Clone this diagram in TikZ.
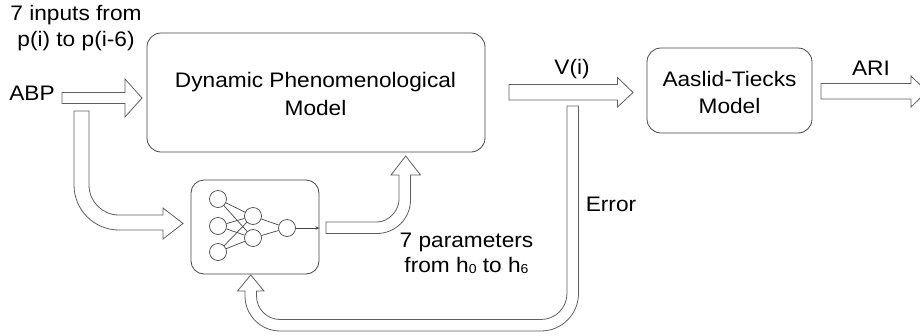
\documentclass[tikz,border=0pt]{standalone}
\usepackage{fontspec}
\setmainfont{Liberation Sans}[FakeStretch=1.08]
\usetikzlibrary{arrows.meta}
\definecolor{lc}{RGB}{70,70,70}
\definecolor{ac}{RGB}{95,95,95}
\newcommand{\mlines}[1]{\begin{tabular}[t]{@{}c@{}}#1\end{tabular}}
\newcommand{\subd}[1]{\raisebox{-1pt}{\fontsize{13}{13}\selectfont #1}}
\begin{document}
\begin{tikzpicture}[x=1pt,y=-1pt,
  blk/.style={draw=ac, line width=0.8pt, fill=white, line join=miter},
  box/.style={draw=lc, line width=0.8pt, rounded corners=#1, inner sep=0pt},
  box/.default=14pt,
  txt/.style={inner sep=0pt, font=\fontsize{21}{26}\selectfont, anchor=base, text=black},
  neuron/.style={circle, draw=lc, line width=0.7pt, minimum size=17pt, inner sep=0pt},
  wire/.style={draw=lc, line width=0.7pt}
]
\useasboundingbox (0,0) rectangle (920,335);
\clip (0,0) rectangle (920,335);
\fill[white] (0,0) rectangle (920,335);

% boxes
\node[box, minimum width=338pt, minimum height=119pt] (dpm) at (316,92.5) {};
\node[box, minimum width=165pt, minimum height=85pt] (at) at (729.5,90.5) {};
\node[box=13pt, minimum width=128pt, minimum height=94pt] (nn) at (255,227) {};

% texts
\node[txt] (inputs) at (76,20) {\mlines{7 inputs from\\p(i) to p(i-6)}};
\node[txt] (abp) at (32,100) {ABP};
\node[txt] (dpmt) at (315.5,87) {\fontsize{21}{28}\selectfont\mlines{Dynamic Phenomenological\\Model}};
\node[txt] (vi) at (572,74) {V(i)};
\node[txt] (att) at (729.5,86) {\fontsize{21}{27}\selectfont\mlines{Aaslid-Tiecks\\Model}};
\node[txt] (ari) at (871,75.5) {ARI};
\node[txt] (err) at (611,211) {Error};
\node[txt] (params) at (466.5,247) {\fontsize{21}{25}\selectfont\mlines{7 parameters\\from h\subd{0} to h\subd{6}}};

% neural network
\node[neuron] (i1) at (218,199) {};
\node[neuron] (i2) at (218,226) {};
\node[neuron] (i3) at (218,252) {};
\node[neuron] (h1) at (253,216) {};
\node[neuron] (h2) at (253,238) {};
\node[neuron] (o) at (287,228) {};
\foreach \a in {i1,i2,i3}{\foreach \b in {h1,h2}{\draw[wire] (\a) -- (\b);}}
\draw[wire] (h1) -- (o);
\draw[wire] (h2) -- (o);
\coordinate (nnout) at (nn.east |- o);
\draw[wire, -{Stealth[length=4pt,width=3.5pt]}] (o) -- (nnout);

% block arrows
% ABP -> DPM
\draw[blk] (62,92.5) -- (125,92.5) -- (125,79) -- (142,98) -- (125,117) -- (125,103.5) -- (62,103.5) -- cycle;
% ABP -> NN
\draw[blk] (74,111) -- (89,111) -- (89,185) .. controls (89,201.6) and (102.4,215) .. (119,215)
  -- (163,215) -- (163,208) -- (183,223.5) -- (163,239) -- (163,230) -- (119,230)
  .. controls (94.1,230) and (74,209.9) .. (74,185) -- cycle;
% NN -> DPM
\draw[blk] (326,222) -- (377,222) .. controls (389.15,222) and (399,209.85) .. (399,200)
  -- (399,175) -- (391,175) -- (405.7,156) -- (420.5,175) -- (410.5,175) -- (410.5,200)
  .. controls (410.5,218.5) and (395.5,233.5) .. (377,233.5) -- (326,233.5) -- cycle;
% V(i)
\draw[blk] (509,84.5) -- (617.5,84.5) -- (617.5,77.5) -- (633,92.5) -- (617.5,107) -- (617.5,100) -- (509,100) -- cycle;
% Error loop
\draw[blk] (567,106) -- (578.5,106) -- (578.5,293.5) .. controls (578.5,314.2) and (561.7,331) .. (541,331)
  -- (280,331) .. controls (260.7,331) and (245,315.3) .. (245,296) -- (245,291) -- (237.5,291)
  -- (250.75,275) -- (264,291) -- (256.5,291) -- (256.5,296)
  .. controls (256.5,309) and (267,319.5) .. (280,319.5) -- (541,319.5)
  .. controls (555.4,319.5) and (567,307.9) .. (567,293.5) -- cycle;
% ARI
\draw[blk] (821,83.5) -- (911,83.5) -- (911,76) -- (927,91.5) -- (911,107) -- (911,99) -- (821,99) -- cycle;
\end{tikzpicture}
\end{document}
